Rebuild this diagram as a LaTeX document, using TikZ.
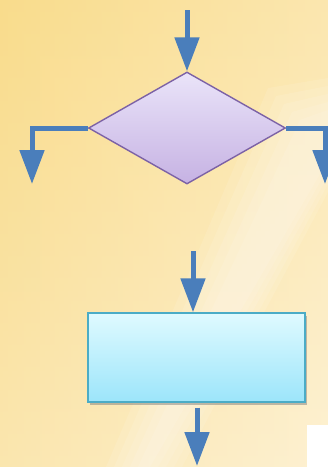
\documentclass[tikz,border=0pt]{standalone}
\usepackage{tikz}
\usetikzlibrary{arrows.meta,positioning,shapes.geometric,shadows}
\definecolor{FlowBlue}{HTML}{4A7EBB}
\definecolor{Lilac}{HTML}{EAE4F9}
\definecolor{DeepLilac}{HTML}{C6B2E3}
\definecolor{Plum}{HTML}{7C62A6}
\definecolor{Ice}{HTML}{DFFAFF}
\definecolor{Aqua}{HTML}{9CE5FA}
\definecolor{Teal}{HTML}{4BACC6}
\definecolor{Honey}{HTML}{F9DC8C}
\definecolor{Cream}{HTML}{FDF1D2}

\begin{document}
\begin{tikzpicture}[
  x=1pt, y=-1pt,
  decision/.style={
    diamond,
    draw=Plum,
    line width=1.4pt,
    top color=Lilac,
    bottom color=DeepLilac,
    minimum width=197pt,
    minimum height=112pt,
    inner sep=0pt
  },
  process/.style={
    rectangle,
    draw=Teal,
    line width=1.4pt,
    top color=Ice,
    bottom color=Aqua,
    minimum width=217pt,
    minimum height=89pt,
    inner sep=0pt,
    drop shadow={opacity=0.5,shadow xshift=1.5pt,shadow yshift=-2.5pt}
  },
  flow/.style={-{Triangle[length=34pt,width=24pt]},line width=5pt,draw=FlowBlue}
]
  % background
  \useasboundingbox (0,0) rectangle (328,467);
  \shade[top color=Honey, bottom color=Cream] (0,0) rectangle (328,467);
  \shade[left color=Honey, right color=Cream, opacity=0.5] (0,0) rectangle (328,467);
  % soft light streak
  \foreach \w in {0,8,16,24,32}
    \fill[white, opacity=0.1] (300-\w,120-\w) -- (328,110-\w) -- (328,160+\w) -- (150+\w,467) -- (138-\w,467) -- cycle;
  \fill[white] (307,425) rectangle (328,467);

  % shapes
  \node[decision] (cond) at (187,128) {};
  \node[process] (act) at (196.5,357.5) {};

  % free ends
  \coordinate (in) at (187,10);
  \coordinate (yes) at (32,184);
  \coordinate (no) at (325,184);
  \coordinate (next) at (193,251);
  \coordinate (out) at (197,466);

  \draw[flow] (in) -- (cond.north);
  \draw[flow] (cond.west) -| (yes);
  \draw[flow] (cond.east) -| (no);
  \draw[flow] (next) -- (next |- act.north);
  \draw[flow] ([yshift=-5pt]act.south -| out) -- (out);
\end{tikzpicture}
\end{document}
